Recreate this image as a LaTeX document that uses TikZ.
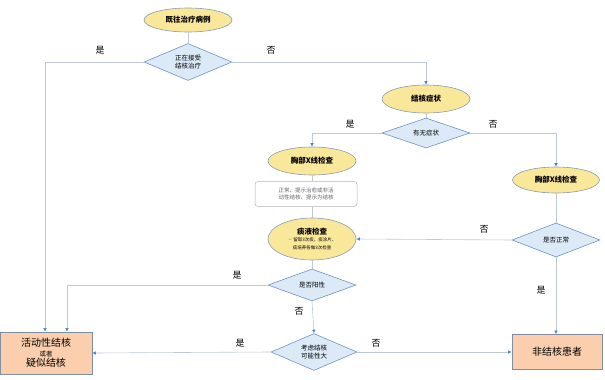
\documentclass[tikz,border=0pt]{standalone}
\usepackage{fontspec}
\setmainfont{Noto Sans CJK SC}
\usetikzlibrary{shapes.geometric,arrows.meta}
\definecolor{ellfill}{HTML}{F9E79A}
\definecolor{ellline}{HTML}{8A9BB0}
\definecolor{diafill}{HTML}{DCE9F7}
\definecolor{dialine}{HTML}{6F93C4}
\definecolor{boxfill}{HTML}{FBCFAE}
\definecolor{boxline}{HTML}{7F8FA3}
\definecolor{conn}{HTML}{BFCAD6}
\definecolor{tipblue}{HTML}{3F86D6}
\tikzset{
  ell/.style={ellipse,draw=ellline,fill=ellfill,line width=0.6pt,minimum width=88pt,inner sep=0pt,font=\fontsize{7.5}{8}\selectfont\bfseries,align=center},
  dia/.style={diamond,draw=dialine,fill=diafill,line width=0.6pt,aspect=2.4,inner sep=0pt,font=\fontsize{6.5}{8}\selectfont,align=center},
  outbox/.style={rectangle,draw=boxline,fill=boxfill,line width=0.8pt,align=center},
  notebox/.style={rectangle,rounded corners=3pt,draw=gray!60,fill=white,line width=0.5pt,minimum width=102pt,minimum height=25pt,font=\fontsize{5.5}{7}\selectfont,align=center,text=gray!80!black},
  lab/.style={font=\fontsize{9}{10}\selectfont},
  conline/.style={draw=conn,line width=0.6pt},
  arr/.style={conline,-{Latex[length=3.5pt,width=3.5pt,color=tipblue]}}
}
\begin{document}
\begin{tikzpicture}[x=1pt,y=-1pt]
\useasboundingbox (0,0) rectangle (605,380);
% nodes
\node[ell,minimum height=24pt] (jw) at (188,20) {既往治疗病例};
\node[dia,minimum width=88pt,minimum height=37pt] (zz) at (188,62) {正在接受\\结核治疗};
\node[ell,minimum height=28pt] (zz2) at (426,99) {结核症状};
\node[dia,minimum width=88pt,minimum height=30pt] (yw) at (426,133) {有无症状};
\node[ell,minimum height=28pt] (xl) at (312,161) {胸部X线检查};
\node[notebox] (nb) at (306,194) {正常、提示治愈或非活\\动性结核、提示为结核};
\node[ell,minimum height=42pt] (ty) at (312,239) {{\fontsize{7.5}{9}\selectfont 痰液检查}\\[-1pt]\fontsize{4.5}{5.5}\selectfont\mdseries • 留取3次痰，痰涂片、\\\fontsize{4.5}{5.5}\selectfont\mdseries 痰培养各做3次检查};
\node[ell,minimum height=26pt,minimum width=87pt] (xr) at (556,180) {胸部X线检查};
\node[dia,minimum width=88pt,minimum height=34pt] (zc) at (556,240) {是否正常};
\node[dia,minimum width=88pt,minimum height=32pt] (yx) at (312,285) {是否阳性};
\node[dia,minimum width=86pt,minimum height=37pt] (kl) at (314,352) {考虑结核\\可能性大};
\node[outbox,minimum width=92pt,minimum height=42pt,inner sep=0pt] (act) at (46,353) {{\fontsize{10}{11}\selectfont 活动性结核}\\[-2pt]{\fontsize{6.5}{7}\selectfont 或者}\\[-2pt]{\fontsize{10}{11}\selectfont 疑似结核}};
\node[outbox,minimum width=90pt,minimum height=35pt,font=\fontsize{10}{11}\selectfont] (non) at (557,352) {非结核患者};
% connectors
\draw[conline] (jw) -- (zz);
\coordinate (c1) at (45,62);
\draw[arr] (zz.west) -- (c1) -- (c1 |- act.north);
\draw[arr] (zz.east) -| (zz2.north);
\draw[conline] (zz2) -- (yw);
\draw[arr] (yw.west) -| (xl.north);
\draw[arr] (yw.east) -| (xr.north);
\draw[conline] (xl.south) -- (xl.south |- nb.north);
\draw[conline] (xl.south |- nb.south) -- (ty.north);
\draw[conline] (xr) -- (zc);
\draw[arr] (zc.west) -- (ty.east);
\draw[arr] (zc.south) -- (zc.south |- non.north);
\draw[conline] (ty) -- (yx);
\coordinate (c2) at (67,285);
\draw[arr] (yx.west) -- (c2) -- (c2 |- act.north);
\draw[arr] (yx.south) -- (kl.north);
\draw[arr] (kl.west) -- (act.east);
\draw[arr] (kl.east) -- (non.west);
% labels
\node[lab] (l1) at (100,50) {是};
\node[lab] (l2) at (271,50) {否};
\node[lab] (l3) at (350,124) {是};
\node[lab] (l4) at (493,124) {否};
\node[lab] (l5) at (484,229) {否};
\node[lab] (l6) at (541,290) {是};
\node[lab] (l7) at (237,275) {是};
\node[lab] (l8) at (299,311) {否};
\node[lab] (l9) at (240,343) {是};
\node[lab] (l10) at (376,343) {否};
\end{tikzpicture}
\end{document}
